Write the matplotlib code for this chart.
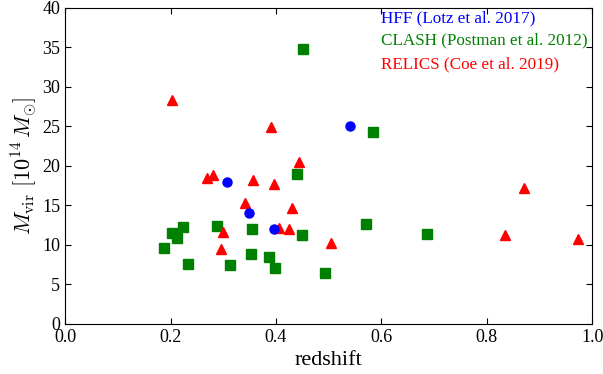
import numpy as np
import matplotlib
matplotlib.use("Agg")
import matplotlib.pyplot as plt

plt.rcParams['font.family'] = 'Liberation Serif'
plt.rcParams['mathtext.fontset'] = 'cm'

# HFF (Lotz et al. 2017)
hff_z = [0.308, 0.348, 0.397, 0.541]
hff_m = [18.0, 14.0, 12.0, 25.0]

# CLASH (Postman et al. 2012)
clash_z = [0.451, 0.584, 0.440, 0.203, 0.223, 0.213, 0.187, 0.234, 0.288,
           0.313, 0.355, 0.352, 0.387, 0.398, 0.450, 0.494, 0.570, 0.686]
clash_m = [34.8, 24.3, 19.0, 11.5, 12.2, 10.85, 9.6, 7.55, 12.4,
           7.4, 12.0, 8.86, 8.44, 7.09, 11.2, 6.45, 12.6, 11.4]

# RELICS (Coe et al. 2019)
relics_z = [0.203, 0.390, 0.443, 0.270, 0.281, 0.356, 0.397, 0.341, 0.430,
            0.300, 0.405, 0.425, 0.296, 0.505, 0.870, 0.834, 0.973]
relics_m = [28.3, 24.9, 20.5, 18.5, 18.9, 18.2, 17.7, 15.35, 14.7,
            11.65, 12.1, 12.0, 9.45, 10.3, 17.25, 11.2, 10.7]

fig = plt.figure(figsize=(6.03, 3.74), dpi=100)
ax = fig.add_axes([0.108, 0.134, 0.874, 0.845])

ax.plot(clash_z, clash_m, 's', color='green', ms=7, mec='green')
ax.plot(relics_z, relics_m, '^', color='red', ms=7, mec='red')
ax.plot(hff_z, hff_m, 'o', color='blue', ms=6.5, mec='blue')

ax.set_xlim(0, 1)
ax.set_ylim(0, 40)
ax.set_xticks(np.arange(0, 1.01, 0.2))
ax.set_yticks(np.arange(0, 41, 5))
ax.tick_params(direction='in', top=True, right=True, length=4, labelsize=13)
ax.set_xlabel('redshift', fontsize=16)
ax.set_ylabel(r'$M_{\rm vir}\ [10^{14}\,M_{\odot}]$', fontsize=16, labelpad=2)

ax.text(0.6, 38.7, 'HFF (Lotz et al. 2017)', color='blue', fontsize=12.3, va='center')
ax.text(0.6, 35.9, 'CLASH (Postman et al. 2012)', color='green', fontsize=12.3, va='center')
ax.text(0.6, 32.8, 'RELICS (Coe et al. 2019)', color='red', fontsize=12.3, va='center')

fig.savefig('out.png', dpi=100)
